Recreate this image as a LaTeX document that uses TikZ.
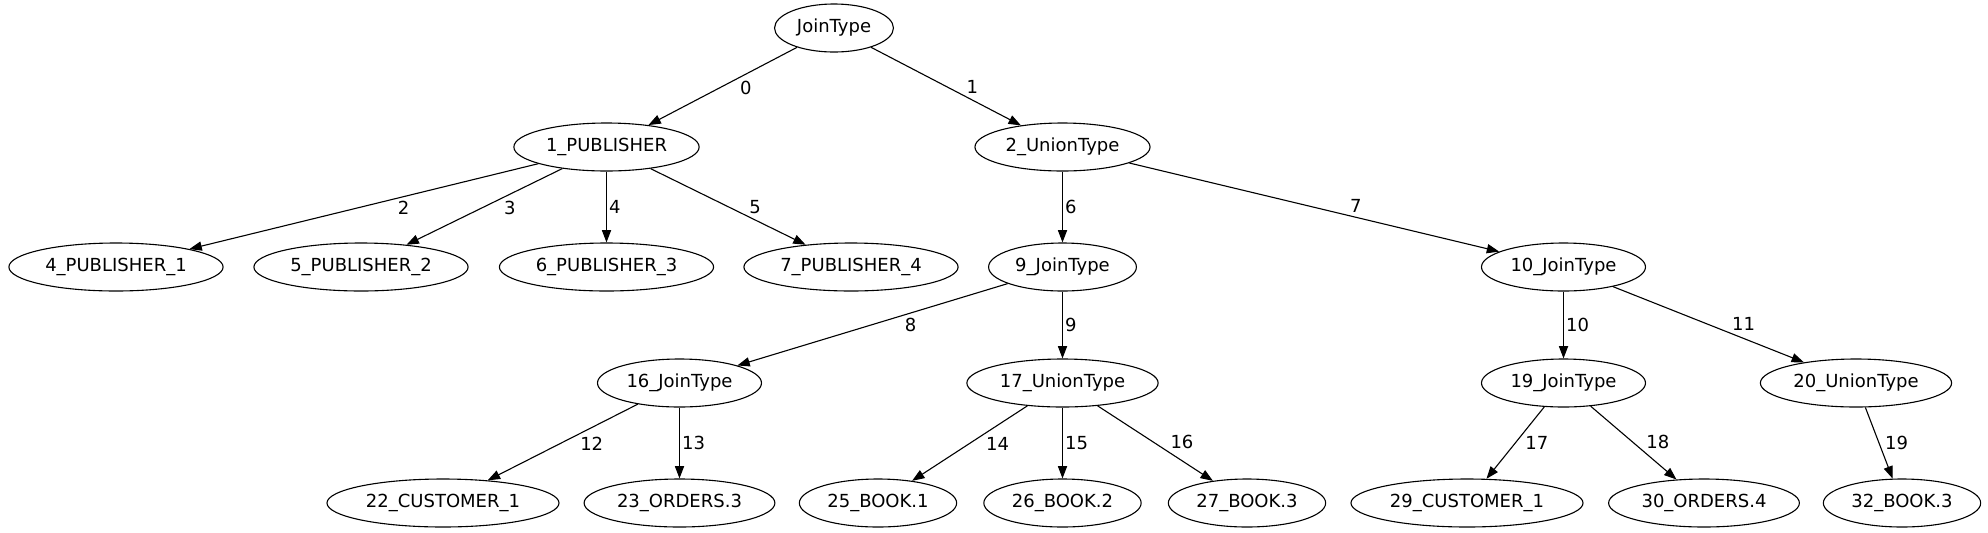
\documentclass[tikz,border=0pt]{standalone}
\usepackage{fontspec}
\setmainfont{DejaVu Sans}
\usepackage{tikz}
\usetikzlibrary{arrows.meta}
\usetikzlibrary{shapes}
\usetikzlibrary{positioning}

\begin{document}
\begin{tikzpicture}[auto, x=0.5pt, y=-0.5pt, >={Triangle[length=6.2pt,width=4.6pt]},
    line width=0.55pt, font=\fontsize{9}{10}\selectfont,
    tnode/.style={draw, ellipse, minimum height=24pt, inner xsep=2.5pt, inner ysep=0pt},
    every edge/.append style={line width=0.55pt},
    every node/.append style={inner sep=1pt}]
      \path[use as bounding box, fill=white] (0,0) rectangle (1988,532);
      % plan tree
      \node[tnode] (root) at (834,28)  {JoinType};
      \node[tnode] (n_1)  at (606.5,147)  {1\_PUBLISHER};
      \node[tnode] (n_2)  at (1062.5,147) {2\_UnionType};
      \node[tnode] (n_4)  at (116,267)  {4\_PUBLISHER\_1};
      \node[tnode] (n_5)  at (361,267)  {5\_PUBLISHER\_2};
      \node[tnode] (n_6)  at (606.5,267)  {6\_PUBLISHER\_3};
      \node[tnode] (n_7)  at (851,267)  {7\_PUBLISHER\_4};
      \node[tnode] (n_9)  at (1062.5,267) {9\_JoinType};
      \node[tnode] (n_10) at (1563.5,267) {10\_JoinType};
      \node[tnode] (n_16) at (679.5,383)  {16\_JoinType};
      \node[tnode] (n_17) at (1062.5,383) {17\_UnionType};
      \node[tnode] (n_19) at (1563.5,383) {19\_JoinType};
      \node[tnode] (n_20) at (1856,383) {20\_UnionType};
      \node[tnode] (n_22) at (443,503)  {22\_CUSTOMER\_1};
      \node[tnode] (n_23) at (679.5,503)  {23\_ORDERS.3};
      \node[tnode] (n_25) at (878,503)  {25\_BOOK.1};
      \node[tnode] (n_26) at (1062.5,503) {26\_BOOK.2};
      \node[tnode] (n_27) at (1247,503) {27\_BOOK.3};
      \node[tnode] (n_29) at (1467,503) {29\_CUSTOMER\_1};
      \node[tnode] (n_30) at (1704,503) {30\_ORDERS.4};
      \node[tnode] (n_32) at (1902,503) {32\_BOOK.3};
      \path[->]
        (root) edge node[pos=.40] {0}  (n_1)
               edge node[pos=.62] {1}  (n_2)
        (n_1)  edge node[pos=.41] {2}  (n_4)
               edge node[pos=.39] {3}  (n_5)
               edge node          {4}  (n_6)
               edge node[pos=.62] {5}  (n_7)
        (n_2)  edge node          {6}  (n_9)
               edge node[pos=.59] {7}  (n_10)
        (n_9)  edge node[pos=.39] {8}  (n_16)
               edge node          {9}  (n_17)
        (n_10) edge node          {10} (n_19)
               edge node[pos=.61] {11} (n_20)
        (n_16) edge node[pos=.40] {12} (n_22)
               edge node          {13} (n_23)
        (n_17) edge node[pos=.38] {14} (n_25)
               edge node          {15} (n_26)
               edge node[pos=.61] {16} (n_27)
        (n_19) edge node[pos=.37] {17} (n_29)
               edge node[pos=.62] {18} (n_30)
        (n_20) edge node[pos=.63] {19} (n_32);
    \end{tikzpicture}
\end{document}
